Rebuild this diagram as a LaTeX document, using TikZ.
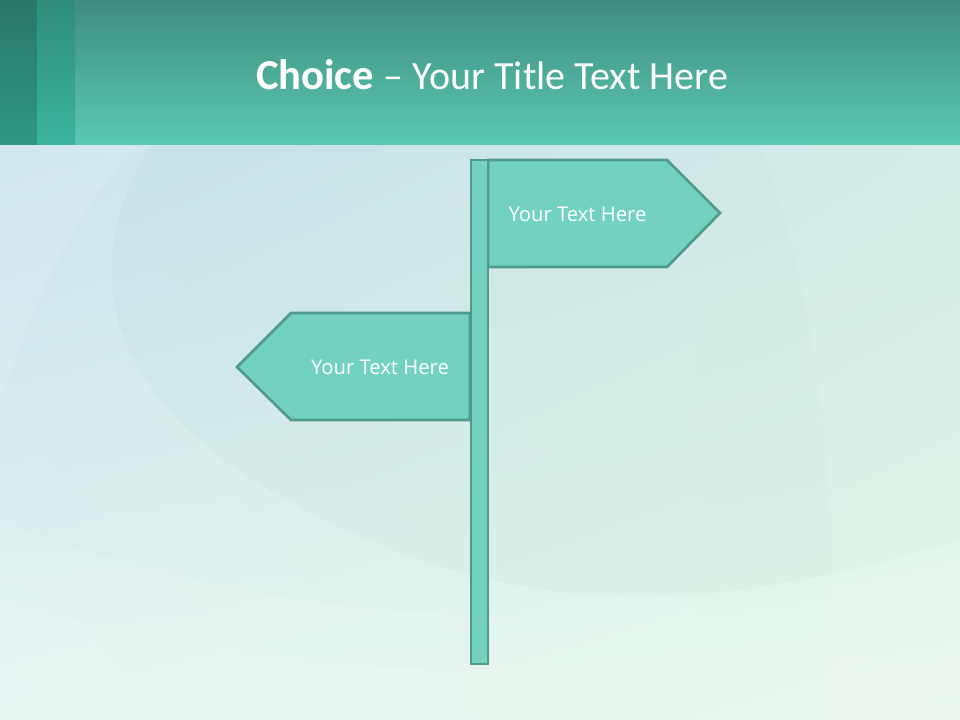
\documentclass[tikz,border=0pt]{standalone}
\usepackage{fontspec}
\usetikzlibrary{shadings}
\setmainfont{Open Sans}
\newfontfamily\titlefont{Carlito}
\definecolor{bgUL}{HTML}{CDE4EC}
\definecolor{bgUR}{HTML}{D8EFEA}
\definecolor{bgLL}{HTML}{E4F3F1}
\definecolor{bgLR}{HTML}{E6F8E8}
\definecolor{hdTop}{HTML}{3F8D7E}
\definecolor{hdBot}{HTML}{5AC9B3}
\definecolor{stAtop}{HTML}{2A7766}
\definecolor{stAbot}{HTML}{2F9783}
\definecolor{stBtop}{HTML}{2F8D79}
\definecolor{stBbot}{HTML}{3BB59C}
\definecolor{signFill}{HTML}{72D2BF}
\definecolor{signLine}{HTML}{4F9A8C}
\tikzset{
  signshape/.style={fill=signFill, draw=signLine, line width=2pt, line join=miter},
  signtext/.style={text=white, font=\fontsize{15.2}{18}\selectfont, inner sep=0pt},
  titletext/.style={text=white, font=\titlefont\fontsize{30}{38}\selectfont, inner sep=0pt}
}
\begin{document}
\begin{tikzpicture}[x=0.75pt,y=-0.75pt]
\useasboundingbox (0,0) rectangle (960,720);
% background
\shade[upper left=bgUL, upper right=bgUR, lower left=bgLL, lower right=bgLR] (0,145) rectangle (960,720);
% faint arcs
\begin{scope}
\clip (0,145) rectangle (960,720);
\fill[white, opacity=0.12] (0,400) .. controls (40,280) and (90,190) .. (140,145) -- (0,145) -- cycle;
\fill[white, opacity=0.10] (0,520) .. controls (300,640) and (650,640) .. (960,560) -- (960,720) -- (0,720) -- cycle;
\fill[white, opacity=0.10] (0,600) .. controls (300,690) and (700,690) .. (960,640) -- (960,720) -- (0,720) -- cycle;
\fill[white, opacity=0.10] (760,145) .. controls (820,300) and (840,500) .. (830,720) -- (960,720) -- (960,145) -- cycle;
\fill[signLine, opacity=0.04] (150,145) .. controls (60,300) and (120,450) .. (420,560) .. controls (600,620) and (760,600) .. (960,540) -- (960,145) -- cycle;
\end{scope}
% header
\shade[top color=hdTop, bottom color=hdBot] (0,0) rectangle (960,145);
\shade[top color=stAtop, bottom color=stAbot] (0,0) rectangle (37,145);
\shade[top color=stBtop, bottom color=stBbot] (37,0) rectangle (75,145);
\node[titletext] (title) at (492,75) {\fontsize{32}{38}\selectfont\textbf{Choice} \fontsize{30}{38}\selectfont– Your Title Text Here};
% signs
\draw[signshape] (488,160) -- (667,160) -- (720,213) -- (667,267) -- (488,267) -- cycle;
\draw[signshape] (470,313) -- (291,313) -- (237,367) -- (291,420) -- (470,420) -- cycle;
\draw[signshape] (471,160) rectangle (488,664);
\node[signtext] (t1) at (577.5,214) {Your Text Here};
\node[signtext] (t2) at (380,367) {Your Text Here};
\end{tikzpicture}
\end{document}
